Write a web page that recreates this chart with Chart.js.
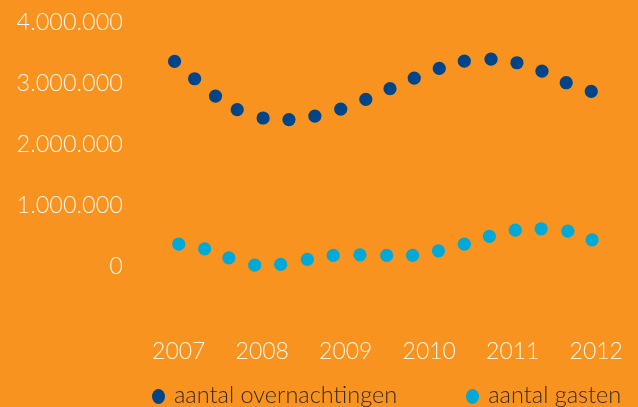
<!DOCTYPE html>
<html>
<head>
<meta charset="utf-8">
<script src="https://cdn.jsdelivr.net/npm/chart.js@4/dist/chart.umd.min.js"></script>
<style>
  html, body { margin: 0; padding: 0; background: #F7931E; overflow: hidden; }
  #wrap { position: relative; width: 638px; height: 407px; }
  #legend { position: absolute; left: 152px; top: 380px; display: flex; align-items: center;
            font-family: Lato, "Open Sans", sans-serif; font-weight: 300; font-size: 23.5px; color: #3a2a1c; }
  #legend .item { display: flex; align-items: center; }
  #legend .item + .item { margin-left: 69px; }
  #legend .dot { width: 13px; height: 15px; border-radius: 50%; margin-right: 9px; margin-top: 4px; }
</style>
</head>
<body>
<div id="wrap">
  <canvas id="chart" width="638" height="407"></canvas>
  <div id="legend"></div>
</div>
<script>
document.addEventListener('DOMContentLoaded', () => {
    // values
    const jaren = ['2007', '2008', '2009', '2010', '2011', '2012'];
    const yLabels = ['0', '1.000.000', '2.000.000', '3.000.000', '4.000.000'];

    const overnachtingenJaar = [2006.95, 2007.19, 2007.44, 2007.70, 2008.01, 2008.32, 2008.63, 2008.94, 2009.24,
        2009.53, 2009.82, 2010.12, 2010.42, 2010.74, 2011.05, 2011.35, 2011.64, 2011.94];
    const overnachtingen = [3356000, 3073000, 2790000, 2568000, 2431000, 2405000, 2463000, 2577000, 2736000,
        2910000, 3083000, 3241000, 3361000, 3393000, 3334000, 3197000, 3008000, 2866000];

    const gastenJaar = [2007.00, 2007.31, 2007.60, 2007.91, 2008.22, 2008.54, 2008.85, 2009.17, 2009.49,
        2009.80, 2010.11, 2010.42, 2010.72, 2011.03, 2011.34, 2011.66, 2011.95];
    const gasten = [370000, 294000, 147000, 28000, 39000, 121000, 186000, 196000, 186000,
        186000, 261000, 370000, 496000, 599000, 620000, 582000, 440000];

    const donkerblauw = '#00458A';
    const lichtblauw = '#00A9D8';
    const tekstWit = '#FFF6EC';

    const toPoints = (xs, ys) => xs.map((x, i) => ({ x: x, y: ys[i] }));

    // html legend built from the chart's own legend items
    const htmlLegend = {
        id: 'htmlLegend',
        afterUpdate(chart) {
            const box = document.getElementById('legend');
            box.innerHTML = '';
            Chart.defaults.plugins.legend.labels.generateLabels(chart).forEach(item => {
                const el = document.createElement('div');
                el.className = 'item';
                const dot = document.createElement('span');
                dot.className = 'dot';
                dot.style.background = item.fillStyle;
                const txt = document.createElement('span');
                txt.textContent = item.text;
                el.appendChild(dot);
                el.appendChild(txt);
                box.appendChild(el);
            });
        }
    };

    const ctx = document.getElementById('chart').getContext('2d');
    new Chart(ctx, {
        type: 'scatter',
        data: {
            datasets: [
                {
                    label: 'aantal overnachtingen',
                    data: toPoints(overnachtingenJaar, overnachtingen),
                    backgroundColor: donkerblauw,
                    borderColor: donkerblauw,
                    borderWidth: 0,
                    pointRadius: 6.6
                },
                {
                    label: 'aantal gasten',
                    data: toPoints(gastenJaar, gasten),
                    backgroundColor: lichtblauw,
                    borderColor: lichtblauw,
                    borderWidth: 0,
                    pointRadius: 6.6
                }
            ]
        },
        options: {
            responsive: false,
            animation: false,
            layout: { autoPadding: false, padding: { top: 22, left: 0, right: 0, bottom: 39 } },
            plugins: {
                legend: { display: false },
                tooltip: { enabled: false }
            },
            scales: {
                x: {
                    type: 'linear',
                    min: 2006.5,
                    max: 2012.5,
                    afterFit: s => { s.height = 40; s.paddingLeft = 0; s.paddingRight = 0; },
                    afterBuildTicks: s => { s.ticks = jaren.map(j => ({ value: Number(j) })); },
                    grid: { display: false, drawTicks: false },
                    border: { display: false },
                    ticks: {
                        padding: 10,
                        color: tekstWit,
                        font: { family: 'Lato', weight: 300, size: 23 },
                        callback: v => jaren[jaren.indexOf(String(v))] || ''
                    }
                },
                y: {
                    min: -1000000,
                    max: 4000000,
                    afterFit: s => { s.width = 137; s.paddingTop = 0; s.paddingBottom = 0; },
                    grid: { display: false, drawTicks: false },
                    border: { display: false },
                    ticks: {
                        stepSize: 1000000,
                        padding: 14,
                        color: tekstWit,
                        font: { family: 'Lato', weight: 300, size: 23.5 },
                        callback: v => v < 0 ? '' : yLabels[Math.round(v / 1000000)]
                    }
                }
            }
        },
        plugins: [htmlLegend]
    });
});
</script>
</body>
</html>
